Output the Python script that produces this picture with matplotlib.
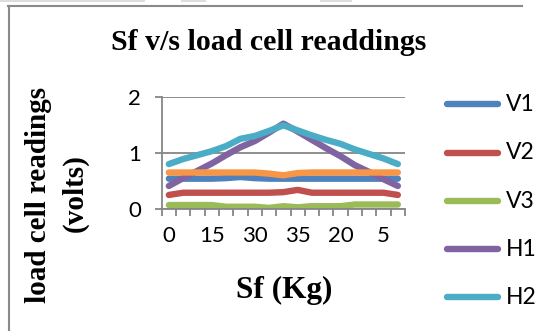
import matplotlib
matplotlib.use("Agg")
import matplotlib.pyplot as plt
from matplotlib.lines import Line2D
from matplotlib.patches import Rectangle

categories = ["0", "5", "10", "15", "20", "25", "30", "35", "40",
              "35", "30", "25", "20", "15", "10", "5", "0"]
V1 = [0.54, 0.54, 0.54, 0.54, 0.55, 0.57, 0.55, 0.54, 0.54,
      0.54, 0.54, 0.54, 0.54, 0.54, 0.54, 0.54, 0.54]
V2 = [0.25, 0.29, 0.29, 0.29, 0.29, 0.29, 0.29, 0.29, 0.30,
      0.34, 0.29, 0.29, 0.29, 0.29, 0.29, 0.29, 0.25]
V3 = [0.07, 0.07, 0.07, 0.07, 0.04, 0.04, 0.04, 0.02, 0.05,
      0.03, 0.05, 0.05, 0.05, 0.08, 0.08, 0.08, 0.08]
H1 = [0.41, 0.55, 0.68, 0.81, 0.96, 1.10, 1.21, 1.36, 1.52,
      1.38, 1.23, 1.08, 0.94, 0.78, 0.66, 0.53, 0.41]
H2 = [0.80, 0.89, 0.96, 1.03, 1.12, 1.25, 1.30, 1.39, 1.49,
      1.40, 1.31, 1.23, 1.16, 1.06, 0.98, 0.90, 0.80]
H3 = [0.65, 0.65, 0.65, 0.65, 0.65, 0.65, 0.65, 0.63, 0.60,
      0.64, 0.65, 0.65, 0.65, 0.65, 0.65, 0.65, 0.65]

series = [("V1", V1, "#4F81BD"), ("V2", V2, "#C0504D"), ("V3", V3, "#9BBB59"),
          ("H1", H1, "#8064A2"), ("H2", H2, "#4BACC6"), ("H3", H3, "#F79646")]
legend_names = ["V1", "V2", "V3", "H1", "H2"]

W, H = 552, 331
fig = plt.figure(figsize=(W / 100, H / 100), dpi=100)

def fx(px):
    return px / W

def fy(py):
    return 1 - py / H

# outer chart border (partial, as in screenshot)
fig.add_artist(Line2D([fx(8), fx(522)], [fy(6), fy(6)], color="#8a8a8a", lw=1.5))
fig.add_artist(Line2D([fx(8.5), fx(8.5)], [fy(6), fy(331)], color="#8a8a8a", lw=1.5))
for x0, x1 in [(0, 145), (181, 206), (320, 352)]:
    fig.add_artist(Rectangle((fx(x0), fy(2)), fx(x1 - x0), fy(0) - fy(2),
                             color="#dddddd", lw=0))

ax = fig.add_axes([fx(161.7), fy(209), fx(405 - 161.7), fy(96.7) - fy(209)])
x = list(range(len(categories)))
for name, vals, col in series:
    ax.plot(x, vals, color=col, lw=4.6, solid_capstyle="round",
            solid_joinstyle="round", label=name)

ax.set_xlim(-0.5, len(categories) - 0.5)
ax.set_ylim(0, 2)
ax.set_yticks([0, 1, 2])
ax.grid(axis="y", color="#868686", lw=1.3)
ax.set_axisbelow(True)
for s in ["top", "right"]:
    ax.spines[s].set_visible(False)
for s in ["left", "bottom"]:
    ax.spines[s].set_color("#868686")
    ax.spines[s].set_linewidth(1.3)

ax.set_xticks([i - 0.5 for i in range(len(categories) + 1)], minor=False)
ax.set_xticklabels([])
ax.tick_params(axis="x", which="major", length=5, color="#868686", width=1.3)
ax.set_xticks(x[::3], minor=True)
ax.set_xticklabels(categories[::3], minor=True)
ax.tick_params(axis="x", which="minor", length=0, pad=12, labelsize=16)
ax.tick_params(axis="y", length=5, color="#868686", width=1.3, labelsize=16, pad=10)
for lab in ax.get_xticklabels(minor=True) + ax.get_yticklabels():
    lab.set_family("Lato")

serif = "Liberation Serif"
fig.text(fx(269), fy(43), "Sf v/s load cell readdings", family=serif,
         weight="bold", fontsize=21.5, ha="center", va="center")
fig.text(fx(39), fy(195), "load cell readings", family=serif, weight="bold",
         fontsize=21, rotation=90, ha="center", va="center")
fig.text(fx(75), fy(193), "(volts)", family=serif, weight="bold",
         fontsize=21, rotation=90, ha="center", va="center")
fig.text(fx(284), fy(290), "Sf (Kg)", family=serif, weight="bold",
         fontsize=22.5, ha="center", va="center")

# legend entries
ys = [104.3, 152.7, 201, 249, 297]
for (name, vals, col), yy in zip(series[:5], ys):
    fig.add_artist(Line2D([fx(447), fx(498)], [fy(yy), fy(yy)], color=col,
                          lw=4.6, solid_capstyle="round"))
    fig.text(fx(506), fy(yy), name, family="Lato", fontsize=16.5,
             ha="left", va="center")

fig.savefig("out.png", dpi=100)
